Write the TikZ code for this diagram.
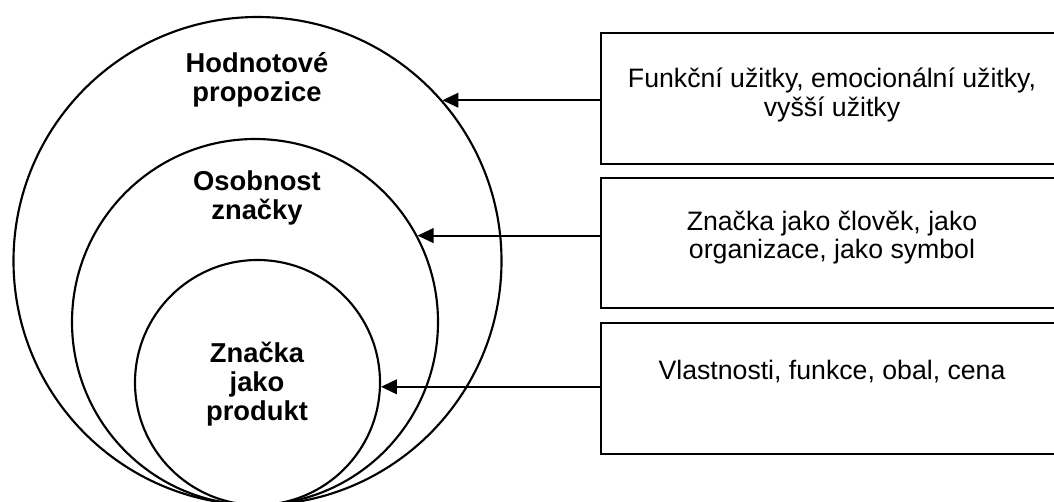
\documentclass[tikz,border=0pt]{standalone}
\usepackage{fontspec}
\setmainfont{Liberation Sans}
\usetikzlibrary{arrows.meta,positioning}

\begin{document}
\begin{tikzpicture}[x=0.75pt, y=-0.75pt, >={Triangle[length=12pt,width=11pt]},
  ring/.style={draw, circle, line width=1.6pt, inner sep=0pt},
  box/.style={draw, line width=1.5pt, minimum width=346pt, minimum height=98pt},
  lbl/.style={align=center, font=\fontsize{20.5}{21.5}\selectfont\bfseries},
  txt/.style={align=center, font=\fontsize{20}{21.5}\selectfont}]
  \useasboundingbox (0,0) rectangle (1054,501);
  \clip (0,0) rectangle (1054,501);
  \node[ring, minimum size=366pt]    (outer) at (257.5,261)   {};
  \node[ring, minimum size=274.5pt]  (mid)   at (255,322)     {};
  \node[ring, minimum size=183.75pt] (inner) at (257.5,382.5) {};
  \node[lbl] (l1) at (257,80)  {Hodnotové\\propozice};
  \node[lbl] (l2) at (257,198) {Osobnost\\značky};
  \node[lbl] (l3) at (257,384) {Značka\\jako\\produkt};
  \node[box] (b1) at (831.25,98.5) {};
  \node[box] (b2) at (831.25,243)  {};
  \node[box] (b3) at (831.25,388.5) {};
  \node[txt] (t1) at (832,95)    {Funkční užitky, emocionální užitky,\\vyšší užitky};
  \node[txt] (t2) at (832,237.5) {Značka jako člověk, jako\\organizace, jako symbol};
  \node[txt] (t3) at (832,372)   {Vlastnosti, funkce, obal, cena};
  \draw[->, line width=1.5pt] (b1.west |- outer.41) -- (outer.41);
  \draw[->, line width=1.5pt] (b2.west |- mid.28) -- (mid.28);
  \draw[->, line width=1.5pt] (b3.west |- inner.-2) -- (inner.-2);
\end{tikzpicture}
\end{document}
